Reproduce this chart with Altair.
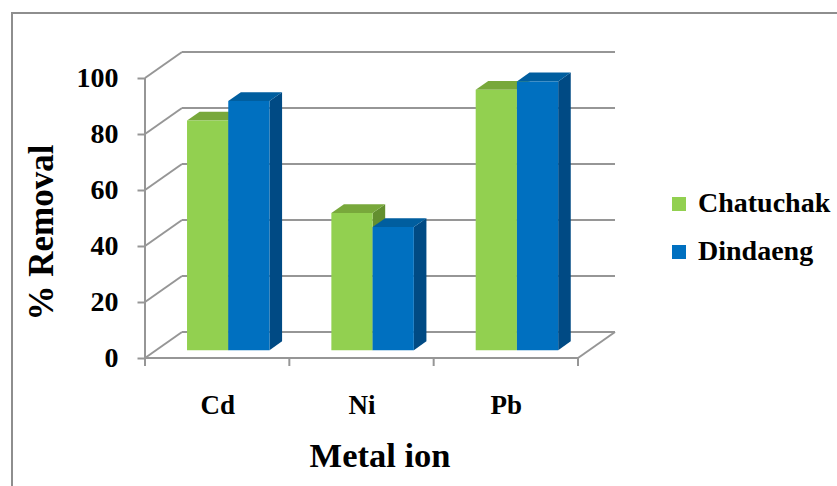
import json
import altair as alt
import pandas as pd

# ---- data -------------------------------------------------------------
metals = ["Cd", "Ni", "Pb"]
series = ["Chatuchak", "Dindaeng"]
chatuchak = [82, 49, 93]
dindaeng = [89, 44, 96]
y_ticks = [0, 20, 40, 60, 80, 100]

# ---- styles -----------------------------------------------------------
front_colors = ["#92D050", "#0070C0"]
top_colors = ["#78A83B", "#005E9F"]
side_colors = ["#638F2F", "#004A84"]
line_color = "#969696"
serif = "'Liberation Serif', 'Times New Roman', Times, 'DejaVu Serif', serif"

# ---- geometry: one category per x unit, percent on y, plus an oblique
# depth direction that pushes the back wall to the right and upward ----
W, H = 470, 313
px_per_cat = 433 / 3
px_per_pct = 2.8
depth_x = 37 / px_per_cat
depth_y = 26 / px_per_pct
bar_z0, bar_z1 = 0.30, 0.64
bar_w = 0.2857
n = len(metals)

xs = alt.Scale(domain=[0, n + depth_x], nice=False, zero=False)
ys = alt.Scale(domain=[0, H / px_per_pct], nice=False, zero=False)

values = {"Chatuchak": chatuchak, "Dindaeng": dindaeng}
front_rows, top_rows, side_rows = [], [], []
for i, m in enumerate(metals):
    for j, s in enumerate(series):
        v = values[s][i]
        x0 = i + 0.5 + (j - 1) * bar_w
        x1 = x0 + bar_w
        bar = f"{m}-{s}"
        front_rows.append(dict(bar=bar, series=s, metal=m, value=v,
                               x=x0 + bar_z0 * depth_x, x2=x1 + bar_z0 * depth_x,
                               y=bar_z0 * depth_y, y2=v + bar_z0 * depth_y))
        for z in (bar_z0, bar_z1):
            top_rows.append(dict(bar=bar, series=s, y=v + z * depth_y,
                                 x=x0 + z * depth_x, x2=x1 + z * depth_x))
            side_rows.append(dict(bar=bar, series=s, x=x1 + z * depth_x,
                                  y=z * depth_y, y2=v + z * depth_y))

line_rows = []
for v in y_ticks:
    # back wall gridline and the matching diagonal on the side wall
    line_rows.append(dict(x=depth_x, x2=n + depth_x, y=v + depth_y, y2=v + depth_y))
    line_rows.append(dict(x=0, x2=depth_x, y=v, y2=v + depth_y))
line_rows += [
    dict(x=0, x2=0, y=0, y2=y_ticks[-1]),               # value axis line
    dict(x=0, x2=n, y=0, y2=0),                           # floor, front edge
    dict(x=n, x2=n + depth_x, y=0, y2=depth_y),           # floor, right edge
]
tick_rows = [dict(x=k, x2=k, y=0, y2=-8 / px_per_pct) for k in range(n + 1)]

label_expr = f"{json.dumps(metals)}[floor(datum.value)]"

# one shared axis definition per channel, reused by every layer
x_axis = alt.Axis(
    values=[k + 0.5 for k in range(n)], labelExpr=label_expr,
    ticks=False, tickSize=0, domain=False, grid=False,
    labelFont=serif, labelFontWeight="bold", labelFontSize=27,
    labelColor="black", labelBaseline="alphabetic", labelPadding=55,
    title="Metal ion", titleFont=serif, titleFontWeight="bold",
    titleFontSize=34.5, titleColor="black", titleBaseline="alphabetic",
    titleAlign="center", titleX=234.5, titleY=108,
)
y_axis = alt.Axis(
    values=y_ticks, tickSize=8, tickWidth=2, tickColor=line_color,
    domain=False, grid=False,
    labelFont=serif, labelFontWeight="bold", labelFontSize=28,
    labelColor="black", labelPadding=19,
    title="% Removal", titleFont=serif, titleFontWeight="bold",
    titleFontSize=35, titleColor="black", titleAngle=-90,
    titleBaseline="alphabetic", titleAlign="center",
    titleX=-93, titleY=187,
)

# ---- layers -----------------------------------------------------------
frame = alt.Chart(pd.DataFrame({"k": [0]})).mark_rect(
    filled=False, stroke="#8E8E8E", strokeWidth=2
).encode(
    x=alt.value(-133), x2=alt.value(W + 240),
    y=alt.value(-32), y2=alt.value(H + 160),
)

lines = alt.Chart(pd.DataFrame(line_rows)).mark_rule(
    color=line_color, strokeWidth=2
).encode(
    x=alt.X("x:Q", scale=xs, axis=x_axis), x2="x2:Q",
    y=alt.Y("y:Q", scale=ys, axis=y_axis), y2="y2:Q",
)

sides = alt.Chart(pd.DataFrame(side_rows)).mark_area(orient="vertical").encode(
    x=alt.X("x:Q", scale=xs, axis=x_axis),
    y=alt.Y("y:Q", scale=ys, axis=y_axis, stack=None),
    y2="y2:Q",
    detail="bar:N",
    color=alt.Color("series:N", scale=alt.Scale(domain=series, range=side_colors), legend=None),
)

tops = alt.Chart(pd.DataFrame(top_rows)).mark_area(orient="horizontal").encode(
    y=alt.Y("y:Q", scale=ys, axis=y_axis),
    x=alt.X("x:Q", scale=xs, axis=x_axis, stack=None),
    x2="x2:Q",
    detail="bar:N",
    color=alt.Color("series:N", scale=alt.Scale(domain=series, range=top_colors), legend=None),
)

fronts = alt.Chart(pd.DataFrame(front_rows)).mark_rect().encode(
    x=alt.X("x:Q", scale=xs, axis=x_axis), x2="x2:Q",
    y=alt.Y("y:Q", scale=ys, axis=y_axis), y2="y2:Q",
    color=alt.Color("series:N", scale=alt.Scale(domain=series, range=front_colors),
                    legend=alt.Legend(
                        title=None, orient="none", legendX=520, legendY=145,
                        symbolType="square", symbolSize=196, symbolStrokeWidth=0,
                        labelFont=serif, labelFontWeight="bold", labelFontSize=28,
                        labelColor="black", labelOffset=5, rowPadding=20,
                        padding=0, labelLimit=300,
                    )),
    tooltip=["metal:N", "series:N", "value:Q"],
)

ticks = alt.Chart(pd.DataFrame(tick_rows)).mark_rule(
    color=line_color, strokeWidth=2
).encode(
    x=alt.X("x:Q", scale=xs, axis=x_axis), x2="x2:Q",
    y=alt.Y("y:Q", scale=ys, axis=y_axis), y2="y2:Q",
)

chart = alt.layer(frame, lines, sides, tops, fronts, ticks).resolve_scale(
    color="independent"
).properties(
    width=W, height=H,
    autosize=alt.AutoSizeParams(type="none"),
    padding={"left": 145, "top": 45, "right": 837 - 145 - W, "bottom": 486 - 45 - H},
    background="white",
).configure_view(stroke=None)

chart.save("out.html", embed_options={"renderer": "svg", "actions": False})
